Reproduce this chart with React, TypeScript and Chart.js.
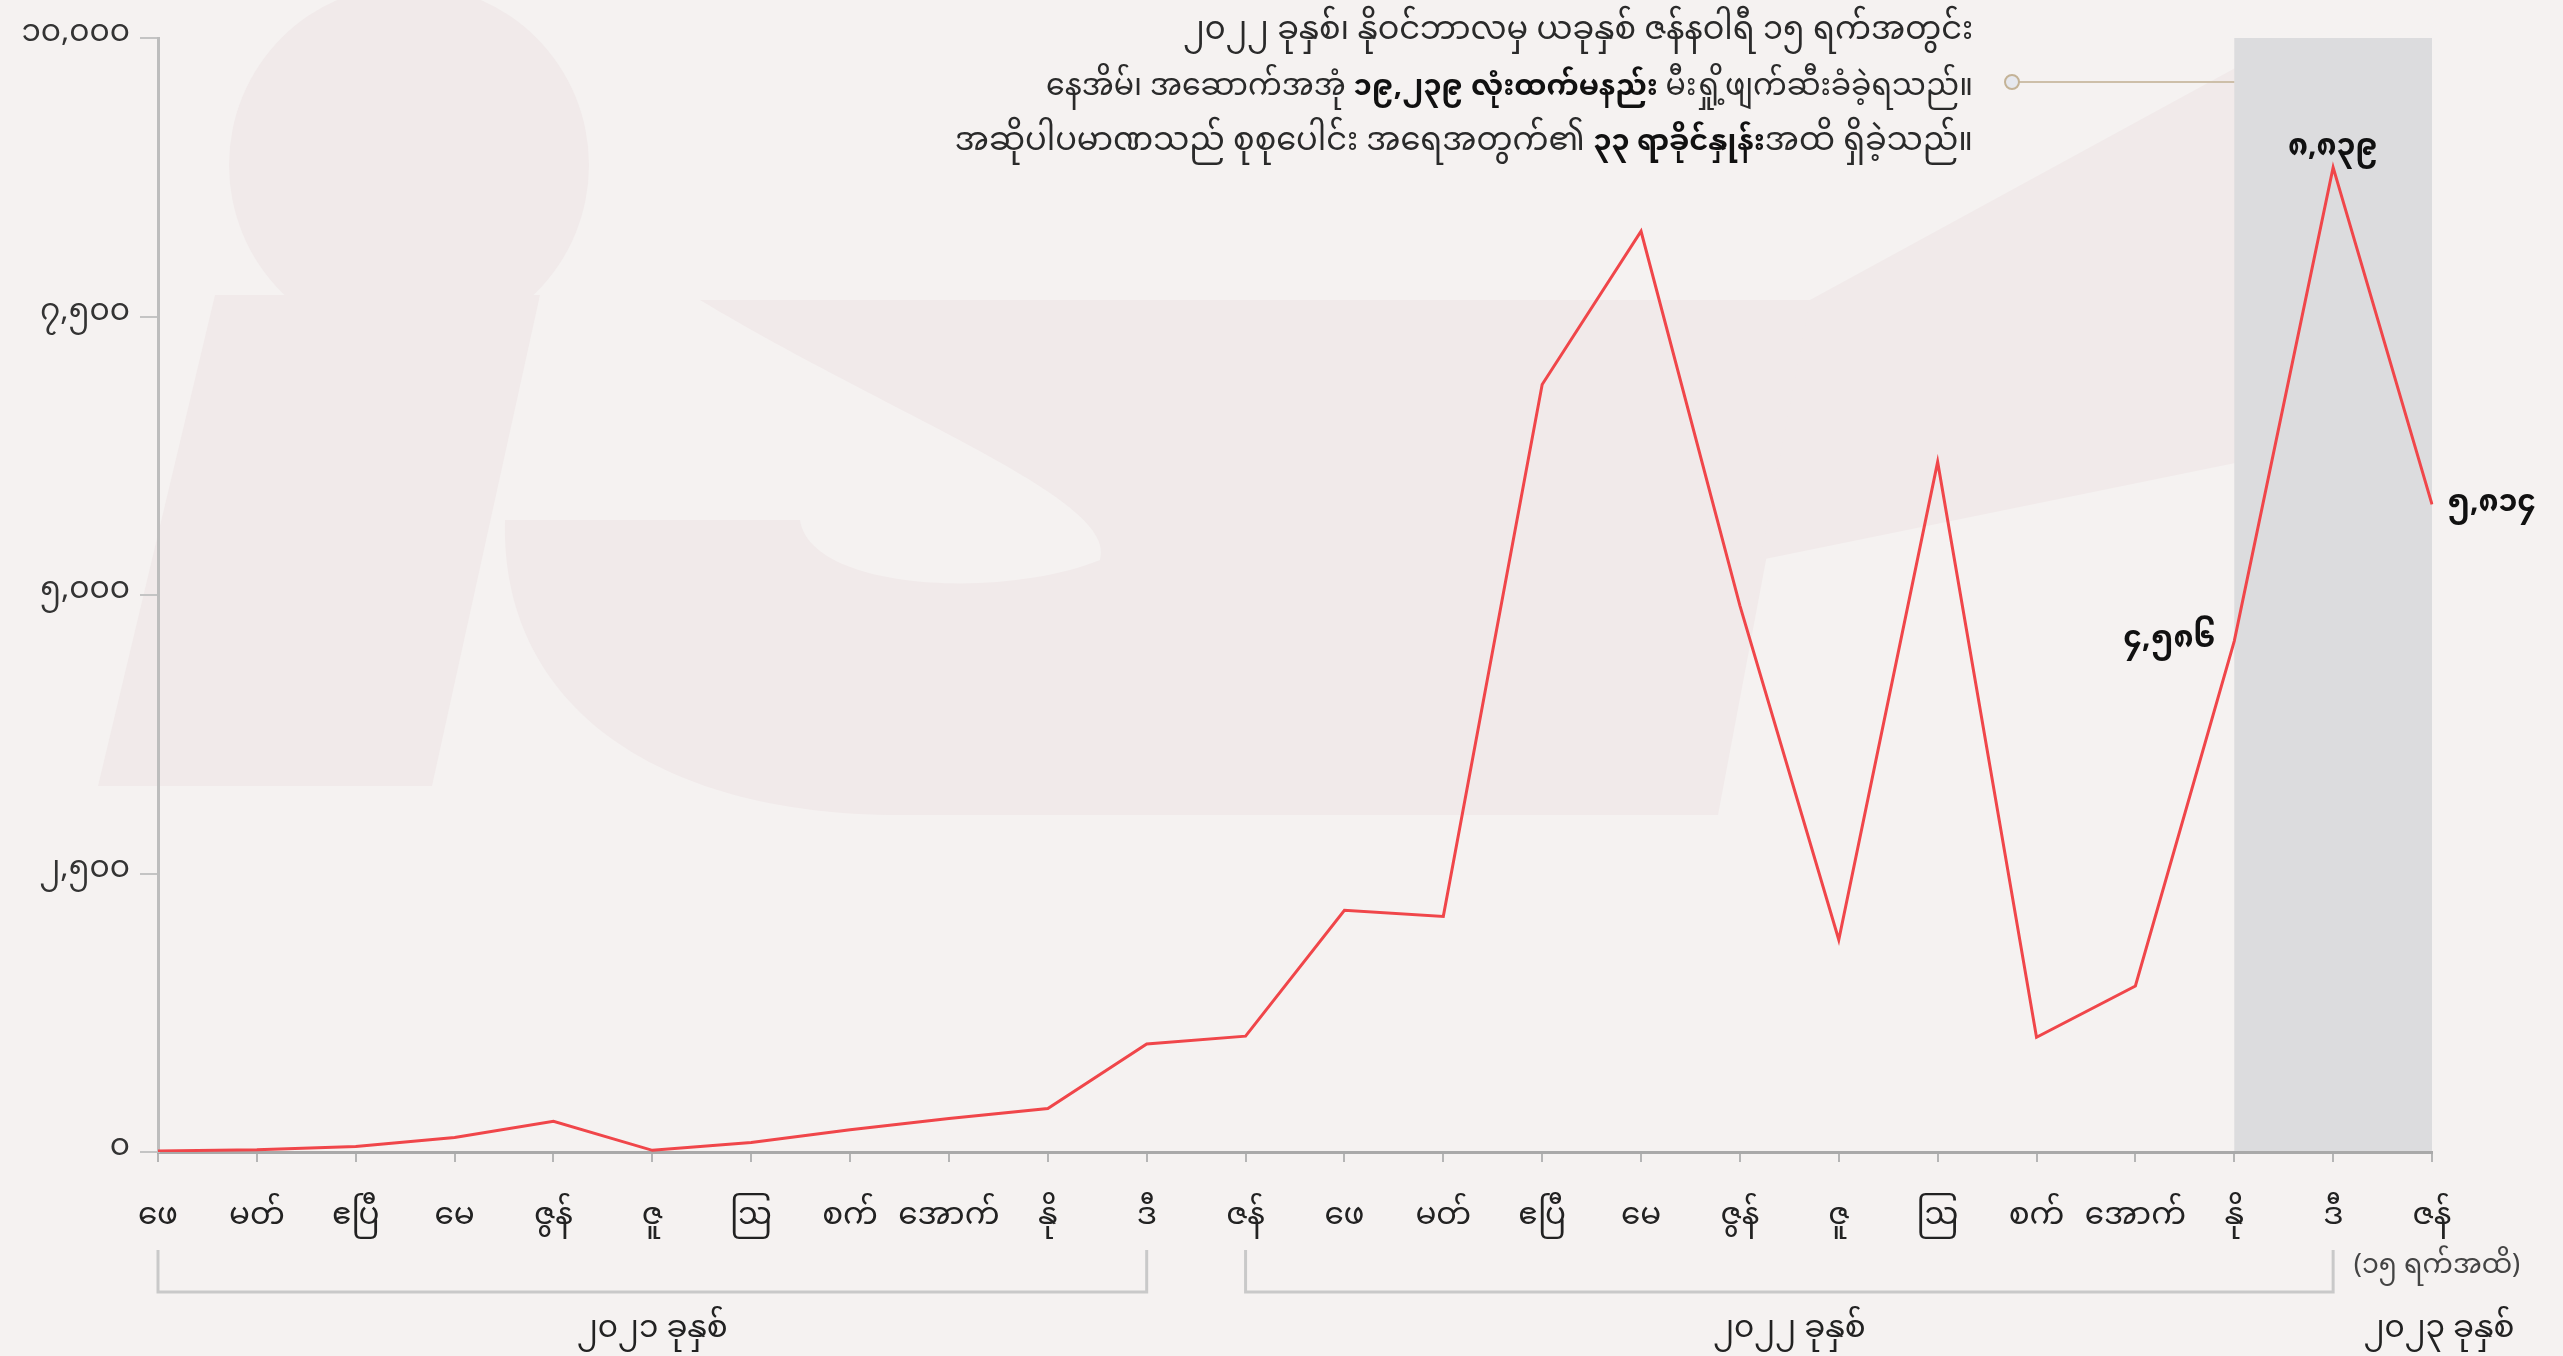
import React, { useEffect, useRef } from "react";
import { Chart, registerables } from "chart.js";

Chart.register(...registerables);

// ---- data ----
const monthLabels = [
  "ဖေ", "မတ်", "ဧပြီ", "မေ", "ဇွန်", "ဇူ", "ဩ", "စက်", "အောက်", "နို", "ဒီ",
  "ဇန်", "ဖေ", "မတ်", "ဧပြီ", "မေ", "ဇွန်", "ဇူ", "ဩ", "စက်", "အောက်", "နို", "ဒီ",
  "ဇန်",
];
const burnedHouses = [
  10, 20, 50, 130, 275, 15, 85, 200, 300, 390, 970,
  1040, 2170, 2115, 6890, 8265, 4905, 1905, 6195, 1030, 1490, 4586, 8839,
  5814,
];
const yTickValues = [0, 2500, 5000, 7500, 10000];
const yTickLabels = ["၀", "၂,၅၀၀", "၅,၀၀၀", "၇,၅၀၀", "၁၀,၀၀၀"];
const yearLabels = ["၂၀၂၁ ခုနှစ်", "၂၀၂၂ ခုနှစ်", "၂၀၂၃ ခုနှစ်"];
const yearStart = [0, 11, 23];
const yearEnd = [10, 22, 23];
const lastMonthNote = "(၁၅ ရက်အထိ)";
const highlightIndex = [21, 22, 23];
const highlightText = ["၄,၅၈၆", "၈,၈၃၉", "၅,၈၁၄"];
const shadeFrom = 21;
const shadeTo = 23;
const noteLines = [
  [{ t: "၂၀၂၂ ခုနှစ်၊ နိုဝင်ဘာလမှ ယခုနှစ် ဇန်နဝါရီ ၁၅ ရက်အတွင်း", b: false }],
  [
    { t: "နေအိမ်၊ အဆောက်အအုံ ", b: false },
    { t: "၁၉,၂၃၉ လုံးထက်မနည်း", b: true },
    { t: " မီးရှို့ဖျက်ဆီးခံခဲ့ရသည်။", b: false },
  ],
  [
    { t: "အဆိုပါပမာဏသည် စုစုပေါင်း အရေအတွက်၏ ", b: false },
    { t: "၃၃ ရာခိုင်နှုန်း", b: true },
    { t: "အထိ ရှိခဲ့သည်။", b: false },
  ],
];

const W = 2563;
const H = 1356;
const FONT = "'Noto Sans Myanmar', 'Myanmar Text', Padauk, 'Noto Sans', sans-serif";
const BG = "#f5f2f1";
const WM = "#f1eaea";
const noteRegularSize = [32, 30, 32];

const decorPlugin = {
  id: "decor",
  beforeDraw(chart: any) {
    const ctx = chart.ctx;
    const { chartArea } = chart;
    const x = chart.scales.x;
    ctx.save();
    ctx.fillStyle = BG;
    ctx.fillRect(0, 0, chart.width, chart.height);
    // watermark (faint logo)
    ctx.fillStyle = WM;
    ctx.beginPath();
    ctx.arc(409, 165, 180, 0, Math.PI * 2);
    ctx.fill();
    ctx.beginPath();
    ctx.moveTo(215, 295);
    ctx.lineTo(540, 295);
    ctx.lineTo(432, 786);
    ctx.lineTo(98, 786);
    ctx.closePath();
    ctx.fill();
    ctx.beginPath();
    ctx.moveTo(700, 300);
    ctx.lineTo(1815, 300);
    ctx.lineTo(1718, 815);
    ctx.lineTo(900, 815);
    ctx.bezierCurveTo(650, 815, 500, 700, 505, 520);
    ctx.lineTo(800, 520);
    ctx.bezierCurveTo(810, 590, 1000, 600, 1100, 560);
    ctx.bezierCurveTo(1120, 500, 900, 420, 700, 300);
    ctx.closePath();
    ctx.fill();
    ctx.beginPath();
    ctx.moveTo(1810, 300);
    ctx.lineTo(2250, 60);
    ctx.lineTo(2250, 460);
    ctx.lineTo(1760, 560);
    ctx.closePath();
    ctx.fill();
    // shaded region
    const xs = x.getPixelForValue(shadeFrom);
    const xe = x.getPixelForValue(shadeTo);
    ctx.fillStyle = "#dcdcde";
    ctx.fillRect(xs, chartArea.top, xe - xs, chartArea.bottom - chartArea.top);
    ctx.restore();
  },
  afterDraw(chart: any) {
    const ctx = chart.ctx;
    const x = chart.scales.x;
    const y = chart.scales.y;
    const { chartArea } = chart;
    ctx.save();

    // highlighted values
    ctx.fillStyle = "#111";
    ctx.font = `bold 30px ${FONT}`;
    ctx.textBaseline = "middle";
    highlightIndex.forEach((idx, k) => {
      const px = x.getPixelForValue(idx);
      const py = y.getPixelForValue(burnedHouses[idx]);
      if (k === 0) {
        ctx.textAlign = "right";
        ctx.fillText(highlightText[k], px - 18, py + 3);
      } else if (k === 1) {
        ctx.textAlign = "center";
        ctx.fillText(highlightText[k], px, py - 16);
      } else {
        ctx.textAlign = "left";
        ctx.fillText(highlightText[k], px + 15, py + 3);
      }
    });

    // annotation text
    const rightEdge = 1973;
    const lineY = [36, 92, 147];
    noteLines.forEach((segs, i) => {
      let cx = rightEdge;
      for (let j = segs.length - 1; j >= 0; j--) {
        const s = segs[j];
        ctx.font = `${s.b ? "bold 29px" : noteRegularSize[i] + "px"} ${FONT}`;
        ctx.fillStyle = s.b ? "#111" : "#2a2a2a";
        ctx.textAlign = "right";
        ctx.fillText(s.t, cx, lineY[i]);
        cx -= ctx.measureText(s.t).width;
      }
    });
    // annotation connector
    const ay = 82;
    ctx.strokeStyle = "#cdbfa9";
    ctx.lineWidth = 2;
    ctx.beginPath();
    ctx.moveTo(2019, ay);
    ctx.lineTo(x.getPixelForValue(shadeFrom), ay);
    ctx.stroke();
    ctx.beginPath();
    ctx.arc(2012, ay, 7, 0, Math.PI * 2);
    ctx.fillStyle = "#e6e8ee";
    ctx.fill();
    ctx.strokeStyle = "#c4b397";
    ctx.stroke();

    // year brackets
    const by = chartArea.bottom + 140;
    ctx.strokeStyle = "#c9c9c9";
    ctx.lineWidth = 3;
    yearLabels.forEach((lab, i) => {
      const x0 = x.getPixelForValue(yearStart[i]);
      const x1 = x.getPixelForValue(yearEnd[i]);
      if (yearEnd[i] > yearStart[i]) {
        ctx.beginPath();
        ctx.moveTo(x0, by - 42);
        ctx.lineTo(x0, by);
        ctx.lineTo(x1, by);
        ctx.lineTo(x1, by - 42);
        ctx.stroke();
      }
      ctx.fillStyle = "#222";
      ctx.font = `31px ${FONT}`;
      ctx.textAlign = "center";
      ctx.textBaseline = "middle";
      ctx.fillText(lab, (x0 + x1) / 2 + (i === 2 ? 7 : 0), by + 42);
    });
    // note under last month
    ctx.font = `27px ${FONT}`;
    ctx.fillStyle = "#444";
    ctx.textAlign = "center";
    ctx.fillText(lastMonthNote, x.getPixelForValue(23) + 5, chartArea.bottom + 118);
    ctx.restore();
  },
};

export default function App() {
  const ref = useRef<HTMLCanvasElement | null>(null);
  useEffect(() => {
    document.body.style.margin = "0";
    document.body.style.overflow = "hidden";
    document.body.style.background = BG;
    const canvas = ref.current!;
    const chart = new Chart(canvas, {
      type: "line",
      data: {
        labels: monthLabels,
        datasets: [
          {
            data: burnedHouses,
            borderColor: "#f0464a",
            borderWidth: 3,
            pointRadius: 0,
            tension: 0,
            fill: false,
          },
        ],
      },
      options: {
        responsive: false,
        animation: false,
        events: [],
        layout: { padding: { left: 0, right: 131, top: 38, bottom: 0 } },
        plugins: { legend: { display: false }, tooltip: { enabled: false } },
        scales: {
          x: {
            offset: false,
            afterFit: (s: any) => {
              s.height = 204;
            },
            grid: {
              drawOnChartArea: false,
              drawTicks: true,
              tickLength: 10,
              color: "#b5b5b5",
              lineWidth: 2,
            },
            border: { display: true, color: "#a9a9a9", width: 3 },
            ticks: {
              autoSkip: false,
              maxRotation: 0,
              padding: 40,
              color: "#222",
              font: { family: FONT, size: 31 },
            },
          },
          y: {
            min: 0,
            max: 10000,
            afterFit: (s: any) => {
              s.width = 158;
            },
            afterBuildTicks: (s: any) => {
              s.ticks = yTickValues.map((v) => ({ value: v }));
            },
            grid: {
              drawOnChartArea: false,
              drawTicks: true,
              tickLength: 18,
              color: "#c4c4c4",
              lineWidth: 2,
            },
            border: { display: true, color: "#bdbdbd", width: 3 },
            ticks: {
              padding: 10,
              color: "#333",
              font: { family: FONT, size: 31 },
              callback: (v: any) => {
                const i = yTickValues.indexOf(Number(v));
                return i >= 0 ? yTickLabels[i] : "";
              },
            },
          },
        },
      },
      plugins: [decorPlugin],
    });
    return () => chart.destroy();
  }, []);
  return (
    <div style={{ width: W, height: H, background: BG }}>
      <canvas ref={ref} width={W} height={H} style={{ display: "block" }} />
    </div>
  );
}
